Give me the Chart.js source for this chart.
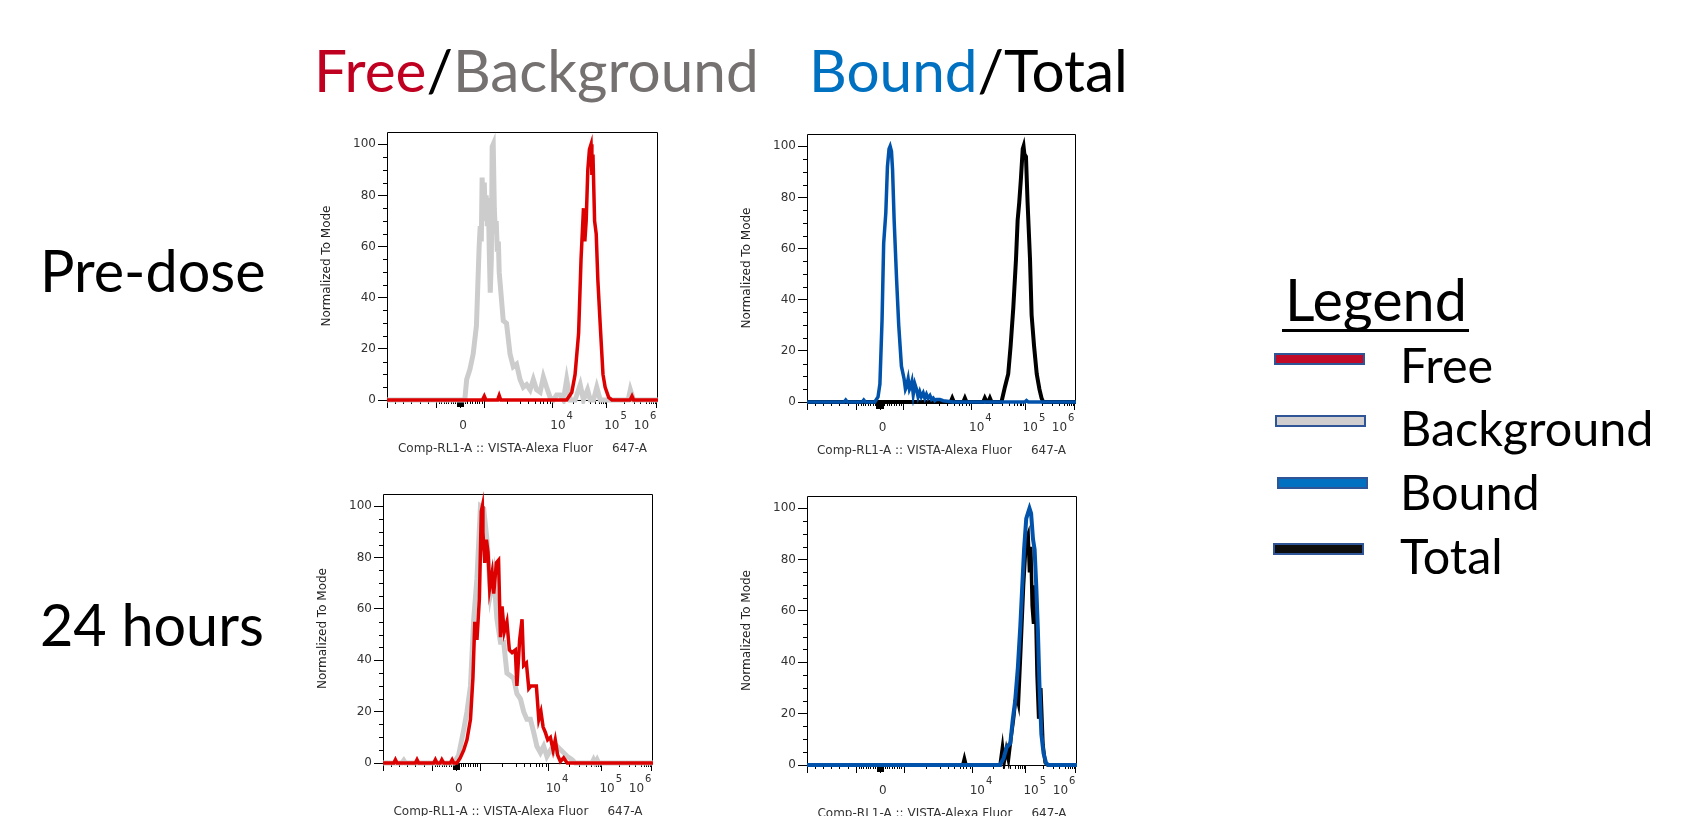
<!DOCTYPE html>
<html>
<head>
<meta charset="utf-8">
<script src="https://cdn.jsdelivr.net/npm/chart.js@4.4.1/dist/chart.umd.min.js"></script>
<style>
  html, body { margin:0; padding:0; width:1696px; height:816px; overflow:hidden; background:#fff; }
  .txt { position:absolute; white-space:nowrap; font-family:Lato, "Open Sans", sans-serif; line-height:1; color:#000; }
  canvas { position:absolute; }
  .sw { position:absolute; box-sizing:border-box; border:2px solid #2F5597; }
</style>
</head>
<body>
<div id="title1" class="txt" style="font-size:58.5px"><span style="color:#C00020">Free</span>/<span style="color:#767171">Background</span></div>
<div id="title2" class="txt" style="font-size:58.5px"><span style="color:#0070C0">Bound</span>/Total</div>
<div id="row1" class="txt" style="font-size:57.5px">Pre-dose</div>
<div id="row2" class="txt" style="font-size:57.5px">24 hours</div>
<div id="legTitle" class="txt" style="font-size:57.5px">Legend</div>
<div style="position:absolute;left:1282px;top:329px;width:187px;height:3px;background:#000"></div>
<div class="sw" style="left:1274px;top:353px;width:91px;height:12px;background:#C00A28"></div>
<div class="sw" style="left:1275px;top:415px;width:91px;height:12px;background:#D0CECE"></div>
<div class="sw" style="left:1277px;top:477px;width:91px;height:12px;background:#0070C0"></div>
<div class="sw" style="left:1273px;top:543px;width:91px;height:12px;background:#0D0D0D"></div>
<div id="leg1" class="txt" style="font-size:48.5px">Free</div>
<div id="leg2" class="txt" style="font-size:48.5px">Background</div>
<div id="leg3" class="txt" style="font-size:48.5px">Bound</div>
<div id="leg4" class="txt" style="font-size:48.5px">Total</div>

<canvas id="c1"></canvas>
<canvas id="c2"></canvas>
<canvas id="c3"></canvas>
<canvas id="c4"></canvas>

<script>
// ---------------- Axis definitions (display channels 0–1000 of the biexponential axis) ----------------
const yTicks = [0, 20, 40, 60, 80, 100];
const yMinorTicks = [5, 10, 15, 25, 30, 35, 45, 50, 55, 65, 70, 75, 85, 90, 95];
const xMajorTicks = [0, 182, 270, 358, 610, 809, 994];
const xMinorTicks = [28, 59, 90, 120, 151, 191, 200, 209, 217, 226, 235, 244, 252,
  288, 297, 305, 314, 323, 332, 341, 349,
  442, 491, 522, 546, 565, 577, 590, 602,
  688, 725, 750, 769, 781, 790, 797, 803,
  873, 910, 935, 954, 966, 975, 982, 988];
const xZeroBlock = [258, 260, 262, 264, 266, 268, 270, 272, 274, 276, 278, 280, 282];
const xTickLabelValues = [270, 610, 809, 994];
const xTickLabels = ['0', '10^4', '10^5', '10^6'];
const xAxisTitle = 'Comp-RL1-A :: VISTA-Alexa Fluor     647-A';
const yAxisTitle = 'Normalized To Mode';

// ---------------- Pre-dose, Free / Background ----------------
const p1BackgroundX = [0, 287, 294, 306, 318, 330, 340, 344, 348, 351, 355, 359, 363, 366, 370, 374, 377, 381, 385, 388, 392, 396, 400, 403, 407, 411, 414, 418, 429, 441, 454, 466, 478, 491, 503, 515, 528, 540, 552, 565, 577, 589, 602, 614, 626, 639, 651, 663, 676, 694, 713, 725, 740, 750, 762, 774, 787, 890, 898, 910, 1000];
const p1BackgroundY = [0, 0, 8, 12, 18, 29, 60, 68, 62, 87, 75, 85, 70, 80, 68, 79, 60, 42, 55, 99, 100, 75, 65, 70, 58, 62, 50, 45, 31, 30, 18, 13, 14, 8, 5, 6, 4, 8, 4, 3, 9, 5, 1, 0, 2, 2, 0, 8, 0, 0, 6, 0, 4, 0, 0, 5, 0, 0, 4, 0, 0];
const p1FreeX = [0, 352, 359, 365, 408, 414, 420, 663, 682, 694, 707, 716, 725, 730, 735, 741, 747, 753, 756, 760, 766, 772, 778, 787, 797, 805, 818, 830, 897, 904, 910, 1000];
const p1FreeY = [0, 0, 1.5, 0, 0, 1.8, 0, 0, 3, 10, 26, 55, 75, 62, 70, 90, 98, 100, 88, 96, 70, 65, 47, 29, 10, 5, 1, 0, 0, 1.5, 0, 0];

// ---------------- Pre-dose, Bound / Total ----------------
const p2BoundX = [0, 138, 144, 150, 205, 211, 217, 252, 264, 271, 279, 285, 293, 299, 305, 309, 314, 318, 324, 333, 341, 351, 361, 366, 370, 376, 381, 385, 390, 395, 401, 407, 413, 419, 425, 432, 438, 444, 450, 457, 463, 469, 475, 481, 494, 506, 543, 810, 816, 823, 1000];
const p2BoundY = [0, 0, 0.8, 0, 0, 0.8, 0, 0, 2, 7, 32, 62, 74, 92, 99, 100, 98, 91, 71, 48, 30, 14, 9, 5, 6, 9, 5, 6, 8, 3, 7, 5, 2, 4, 2, 3.5, 1.5, 3, 1.5, 2.5, 1, 1.5, 0.5, 1, 1, 0.5, 0, 0, 0.6, 0, 0];
const p2TotalX = [0, 534, 540, 546, 581, 587, 593, 655, 661, 668, 674, 680, 686, 723, 736, 748, 757, 767, 777, 783, 789, 795, 802, 805, 808, 814, 820, 829, 835, 844, 854, 864, 872, 878, 1000];
const p2TotalY = [0, 0, 1.5, 0, 0, 1.5, 0, 0, 1.5, 0, 0, 1.5, 0, 0, 6, 11, 22, 37, 56, 71, 78, 87, 99, 100, 97, 96, 78, 56, 34, 22, 11, 5, 1.5, 0, 0];

// ---------------- 24 hours, Free / Background ----------------
const p3BackgroundX = [0, 70, 77, 83, 262, 280, 299, 311, 324, 336, 348, 361, 373, 385, 398, 410, 422, 435, 447, 459, 472, 484, 496, 509, 521, 533, 546, 558, 570, 583, 595, 607, 620, 632, 645, 669, 682, 700, 712, 774, 780, 786, 793, 799, 1000];
const p3BackgroundY = [0, 0, 1, 0, 0, 3, 13, 20, 30, 56, 72, 100, 99, 87, 66, 73, 56, 47, 47, 35, 34, 33, 27, 25, 20, 17, 17, 12, 6.5, 4, 6.5, 2.6, 5, 4, 6.5, 4, 2.6, 1.3, 0, 0, 1.3, 0, 1.3, 0, 0];
const p3FreeX = [0, 40, 46, 52, 120, 126, 132, 188, 194, 200, 212, 218, 225, 249, 256, 262, 274, 286, 299, 311, 324, 333, 340, 348, 357, 364, 368, 370, 377, 383, 389, 395, 404, 410, 420, 428, 435, 441, 449, 459, 468, 478, 490, 496, 506, 515, 521, 531, 540, 548, 558, 568, 577, 585, 593, 601, 610, 620, 630, 638, 647, 657, 669, 682, 1000];
const p3FreeY = [0, 0, 1.3, 0, 0, 1.3, 0, 0, 1.3, 0, 0, 1.3, 0, 0, 1.3, 0, 0, 2, 5, 9, 17, 33, 55, 48, 64, 98, 100, 90, 78, 87, 82, 68, 74, 66, 78, 79, 49, 61, 51, 55, 44, 43, 44, 30, 48, 56, 38, 39, 29, 30, 30, 30, 17, 20, 14, 12, 9, 10, 5, 9, 3, 0.6, 2, 0, 0];

// ---------------- 24 hours, Bound / Total ----------------
const p4BoundX = [0, 715, 728, 740, 753, 762, 771, 781, 790, 796, 804, 812, 818, 824, 830, 837, 843, 849, 855, 861, 868, 876, 886, 895, 1000];
const p4BoundY = [0, 0, 2.6, 7, 8.5, 17.6, 25, 38, 54, 67, 84, 96, 98, 100, 98, 88, 84, 70, 53, 31, 12, 4.6, 0.6, 0, 0];
const p4TotalX = [0, 577, 583, 589, 715, 724, 730, 738, 746, 755, 765, 775, 783, 792, 802, 812, 819, 824, 829, 834, 839, 845, 852, 858, 866, 874, 882, 891, 1000];
const p4TotalY = [0, 0, 2.6, 0, 0, 7, 1, 6, 2, 10, 18, 28, 24, 45, 70, 88, 90, 75, 85, 62, 55, 70, 35, 18, 30, 8, 1, 0, 0];

// ---------------- colours ----------------
const COL_FREE = '#DD0000', COL_BG = '#CCCCCC', COL_BOUND = '#0052AA', COL_TOTAL = '#000000';

function pts(xs, ys) { return xs.map((x, i) => ({ x: x, y: ys[i] })); }

const flowAxes = {
  id: 'flowAxes',
  beforeDatasetsDraw(chart) {
    const ctx = chart.ctx, a = chart.chartArea, x = chart.scales.x, y = chart.scales.y;
    ctx.save();
    ctx.strokeStyle = '#000';
    ctx.lineWidth = 1;
    ctx.beginPath();
    ctx.moveTo(a.left + 0.5, a.bottom + 0.5); ctx.lineTo(a.left + 0.5, a.top + 0.5);
    ctx.lineTo(a.right - 0.5, a.top + 0.5); ctx.lineTo(a.right - 0.5, a.bottom + 0.5);
    ctx.lineTo(a.left + 0.5, a.bottom + 0.5);
    ctx.stroke();
    ctx.beginPath();
    const tick = (v, len) => { const p = Math.round(x.getPixelForValue(v)) + 0.5; ctx.moveTo(p, a.bottom); ctx.lineTo(p, a.bottom + len); };
    xMajorTicks.forEach(v => tick(v, 8));
    xMinorTicks.forEach(v => tick(v, 4));
    xZeroBlock.forEach(v => tick(v, 7));
    yMinorTicks.forEach(v => { const p = Math.round(y.getPixelForValue(v)) + 0.5; ctx.moveTo(a.left - 4, p); ctx.lineTo(a.left, p); });
    ctx.stroke();
    ctx.fillStyle = '#333';
    ctx.textAlign = 'left';
    ctx.textBaseline = 'alphabetic';
    xTickLabelValues.forEach((v, i) => {
      const px = x.getPixelForValue(v);
      const parts = xTickLabels[i].split('^');
      ctx.font = '12px "DejaVu Sans"';
      const wb = ctx.measureText(parts[0]).width;
      let ws = 0;
      if (parts[1]) { ctx.font = '10px "DejaVu Sans"'; ws = ctx.measureText(parts[1]).width + 1; }
      let left;
      if (!parts[1]) left = px + 3 - wb / 2;
      else if (i === xTickLabels.length - 1) left = px - wb - ws;
      else left = px - 2;
      ctx.font = '12px "DejaVu Sans"';
      ctx.fillText(parts[0], left, a.bottom + 29);
      if (parts[1]) { ctx.font = '10px "DejaVu Sans"'; ctx.fillText(parts[1], left + wb + 1, a.bottom + 19); }
    });
    ctx.font = '12px "DejaVu Sans"';
    ctx.fillStyle = '#333';
    ctx.textAlign = 'center';
    ctx.fillText(xAxisTitle, (a.left + a.right) / 2, a.bottom + 52);
    ctx.translate(a.left - 60, (a.top + a.bottom) / 2);
    ctx.rotate(-Math.PI / 2);
    ctx.textBaseline = 'middle';
    ctx.fillStyle = '#222';
    ctx.fillText(yAxisTitle, 0, 0);
    ctx.restore();
  }
};

function makePanel(id, area, datasets) {
  const padL = 100, padT = 14, padR = 24, padB = 60;
  const cvs = document.getElementById(id);
  const w = area.r - area.l + padL + padR;
  const h = area.b - area.t + padT + padB;
  cvs.width = w; cvs.height = h;
  cvs.style.width = w + 'px'; cvs.style.height = h + 'px';
  cvs.style.left = (area.l - padL) + 'px';
  cvs.style.top = (area.t - padT) + 'px';
  new Chart(cvs, {
    type: 'line',
    data: { datasets: datasets },
    options: {
      responsive: false,
      animation: false,
      devicePixelRatio: 1,
      layout: { padding: { left: 0, top: padT, right: padR, bottom: padB } },
      plugins: { legend: { display: false }, tooltip: { enabled: false } },
      elements: { point: { radius: 0 }, line: { tension: 0 } },
      scales: {
        x: { type: 'linear', min: 0, max: 1000, display: false },
        y: {
          min: 0, max: 104.8,
          afterFit(s) { s.width = padL; },
          afterBuildTicks(s) { s.ticks = yTicks.map(v => ({ value: v })); },
          grid: { drawOnChartArea: false, drawTicks: true, tickLength: 9, color: '#000' },
          border: { display: false },
          ticks: { font: { family: 'DejaVu Sans', size: 12 }, color: '#333', padding: 2 }
        }
      }
    },
    plugins: [flowAxes]
  });
}

function ds(label, xs, ys, color, width, order) {
  return { label: label, data: pts(xs, ys), borderColor: color, backgroundColor: color, borderWidth: width, fill: false, order: order, clip: 4, pointRadius: 0, borderJoinStyle: 'miter' };
}

makePanel('c1', { l: 387, t: 132, r: 658, b: 400 }, [
  ds('Free', p1FreeX, p1FreeY, COL_FREE, 3.5, 0),
  ds('Background', p1BackgroundX, p1BackgroundY, COL_BG, 5, 1)
]);
makePanel('c2', { l: 807, t: 134, r: 1076, b: 402 }, [
  ds('Bound', p2BoundX, p2BoundY, COL_BOUND, 3.5, 0),
  ds('Total', p2TotalX, p2TotalY, COL_TOTAL, 4, 1)
]);
makePanel('c3', { l: 383, t: 494, r: 653, b: 763 }, [
  ds('Free', p3FreeX, p3FreeY, COL_FREE, 3.5, 0),
  ds('Background', p3BackgroundX, p3BackgroundY, COL_BG, 5, 1)
]);
makePanel('c4', { l: 807, t: 496, r: 1077, b: 765 }, [
  ds('Bound', p4BoundX, p4BoundY, COL_BOUND, 4, 0),
  ds('Total', p4TotalX, p4TotalY, COL_TOTAL, 3.5, 1)
]);

function place(id, x, baseline) {
  const el = document.getElementById(id);
  const m = document.createElement('span');
  m.style.display = 'inline-block'; m.style.width = '0'; m.style.height = '0'; m.style.verticalAlign = 'baseline';
  el.appendChild(m);
  el.style.left = x + 'px'; el.style.top = '0px';
  const off = m.offsetTop;
  el.style.top = (baseline - off) + 'px';
}
place('title1', 314, 92);
place('title2', 809, 92);
place('row1', 40, 292);
place('row2', 40, 646);
place('legTitle', 1285, 321);
place('leg1', 1400, 383);
place('leg2', 1400, 446);
place('leg3', 1400, 510);
place('leg4', 1400, 574);
</script>
</body>
</html>
